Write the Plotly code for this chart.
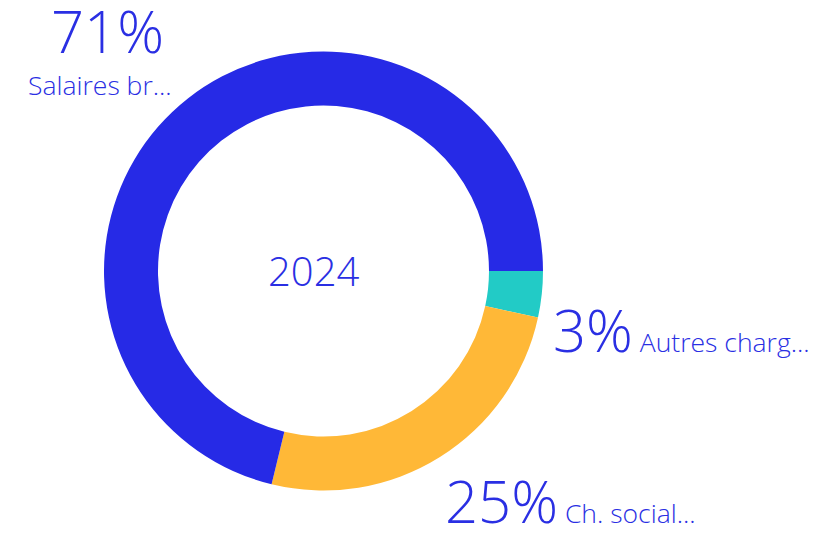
import plotly.graph_objects as go

labels = ["Autres charges", "Ch. sociales", "Salaires bruts"]
short_labels = ["Autres charg...", "Ch. social...", "Salaires br..."]
values = [3.4, 25.4, 71.2]
colors = ["#22CBC6", "#FFB837", "#262AE6"]
center_text = "2024"

W, H = 834, 540
OFF = 8  # browser body margin
TXT = "#2A2FE3"
FONT = "Open Sans, Noto Sans, sans-serif"

def px(x):
    return (x - OFF) / W

def py(y):
    return 1 - (y - OFF) / H

fig = go.Figure(go.Pie(
    labels=labels, values=values, hole=0.754, sort=False,
    direction="clockwise", rotation=90,
    marker=dict(colors=colors, line=dict(width=0)),
    textinfo="none", hoverinfo="label+percent", showlegend=False,
    domain=dict(x=[px(104), px(543)], y=[py(490.5), py(51.5)]),
))

total = sum(values)
pct = [f"{round(v / total * 100)}%" for v in values]

big = 58
small = 26.5
ann = []
# Salaires (stacked)
ann.append(dict(x=px(107), y=py(30), text=pct[2], xanchor="center", yanchor="middle",
                font=dict(size=big, color=TXT, family=FONT, weight=300), showarrow=False))
ann.append(dict(x=px(100), y=py(65), text=short_labels[2], xanchor="center", yanchor="top",
                font=dict(size=small, color=TXT, family=FONT, weight=300), showarrow=False))
# Autres charges (inline)
ann.append(dict(x=px(551), y=py(371), text=f"<span style='font-size:{big}px'>{pct[0]}</span> {short_labels[0]}",
                xanchor="left", yanchor="bottom",
                font=dict(size=small, color=TXT, family=FONT, weight=300), showarrow=False))
# Ch. sociales (inline)
ann.append(dict(x=px(443), y=py(542), text=f"<span style='font-size:{big}px'>{pct[1]}</span> {short_labels[1]}",
                xanchor="left", yanchor="bottom",
                font=dict(size=small, color=TXT, family=FONT, weight=300), showarrow=False))
# center
ann.append(dict(x=px(313.5), y=py(270.5), text=center_text, xanchor="center", yanchor="middle",
                font=dict(size=40, color=TXT, family=FONT, weight=300), showarrow=False))

fig.update_layout(
    width=W, height=H, margin=dict(l=0, r=0, t=0, b=0),
    paper_bgcolor="white", plot_bgcolor="white",
    annotations=ann,
)

fig.write_html("out.html")
